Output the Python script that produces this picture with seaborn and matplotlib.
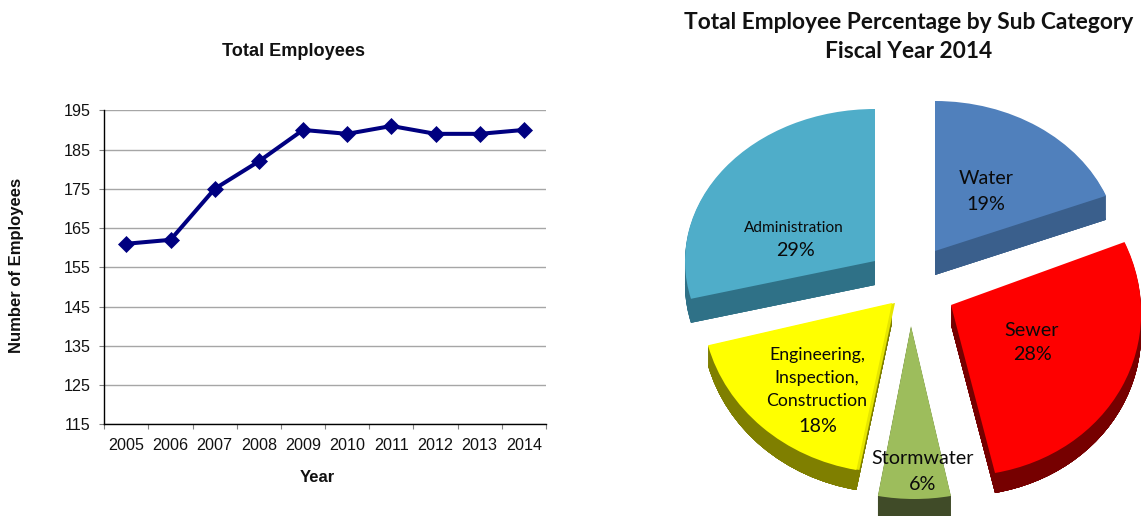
import matplotlib
matplotlib.use("Agg")
import matplotlib.pyplot as plt
from matplotlib.transforms import Affine2D
import seaborn as sns

# ---- data ----
years = [2005, 2006, 2007, 2008, 2009, 2010, 2011, 2012, 2013, 2014]
employees = [161, 162, 175, 182, 190, 189, 191, 189, 189, 190]
y_ticks = [115, 125, 135, 145, 155, 165, 175, 185, 195]
line_title = "Total Employees"
line_xlabel = "Year"
line_ylabel = "Number of Employees"

pie_title = "Total Employee Percentage by Sub Category\nFiscal Year 2014"
categories = ["Water", "Sewer", "Stormwater", "Engineering,\nInspection,\nConstruction", "Administration"]
shares = [19, 28, 6, 18, 29]
top_colors = ["#5080bc", "#fe0000", "#9dbd5c", "#ffff00", "#4fadc9"]
side_colors = ["#3a5f8c", "#760000", "#404b28", "#7f7f00", "#2f7187"]
edge_colors = ["#3a5f8c", "#760000", "#404b28", "#e6e600", "#2f7187"]

# ---- layout (pixels) ----
W, H = 1141, 516
L, R, T, B = 104.3, 546, 110.3, 424.3
apex = [(935, 251), (951, 305), (911, 326), (892, 303), (875, 261)]
radius_x = [184, 190, 195, 190, 190]
radius_y = [150, 171, 173, 170, 152]
shear = [0, -0.05, -0.02, 0, 0]
depth = [24, 20, 26, 20, 24]
name_xy = [(986, 179), (1032, 330), (923, 458), (817, 378), (794, 228)]
pct_xy = [(986, 204), (1032, 355), (923, 484), (818, 427), (795, 251)]
name_size = [14.2, 14.2, 14.2, 12.7, 11.1]
pct_size = 14.2

sns.set_theme(style="white")
plt.rcParams["font.family"] = ["Liberation Sans", "DejaVu Sans"]

fig = plt.figure(figsize=(W / 100, H / 100), dpi=100)

# ---- line chart ----
ax = fig.add_axes([L / W, 1 - B / H, (R - L) / W, (B - T) / H])
sns.lineplot(x=years, y=employees, ax=ax, color="#000080", linewidth=2.9,
             marker="D", markersize=8.4, markeredgecolor="#000080",
             markeredgewidth=0.5, errorbar=None, clip_on=False, zorder=5)
ax.set_xlim(2004.5, 2014.5)
ax.set_ylim(115, 195)
ax.set_yticks(y_ticks)
ax.set_xticks(years)
ax.set_xticks([y - 0.5 for y in years] + [years[-1] + 0.5], minor=True)
ax.grid(axis="y", color="#a6a6a6", linewidth=1)
ax.grid(axis="x", visible=False)
ax.set_axisbelow(True)
ax.tick_params(axis="x", which="major", length=0, labelsize=11.6, pad=10, colors="#111111")
ax.tick_params(axis="x", which="minor", length=3.6, width=0.8, color="#808080", bottom=True)
ax.tick_params(axis="y", length=3.6, width=0.8, color="#808080", left=True, labelsize=11.6, pad=6.5, labelcolor="#111111")
for side in ["top", "right"]:
    ax.spines[side].set_visible(False)
for side in ["left", "bottom"]:
    ax.spines[side].set_color("black")
    ax.spines[side].set_linewidth(1.0)
ax.set_title(line_title, fontsize=13.1, fontweight="bold", color="#111111",
             x=(293 - L) / (R - L), y=(B - 52) / (B - T), va="center", pad=0)
ax.set_xlabel(line_xlabel, fontsize=12, fontweight="bold", color="#111111", va="center")
ax.xaxis.set_label_coords((317 - L) / (R - L), -(478 - B) / (B - T))
ax.set_ylabel(line_ylabel, fontsize=12, fontweight="bold", color="#111111", va="center")
ax.yaxis.set_label_coords((17 - L) / (R - L), (B - 265) / (B - T))

# ---- exploded pseudo-3D pie, one axes in figure pixels ----
pax = fig.add_axes([0, 0, 1, 1], facecolor="none")


def draw_pie(colors, offsets, nudge=0):
    wedges, _ = pax.pie(shares, colors=colors, startangle=90, counterclock=False,
                        wedgeprops={"linewidth": 0})
    for w, (cx, cy), rx, ry, sh, off in zip(wedges, apex, radius_x, radius_y, shear, offsets):
        w.set_transform(Affine2D().scale(rx, ry).skew(sh, 0).translate(cx + nudge, H - cy - off) + pax.transData)
    return wedges


# side walls: the slices stepped downwards in the dark colours
for step in range(max(depth), 0, -1):
    draw_pie(side_colors, [min(step, d) for d in depth])
# lighter sliver along the right edge of the yellow slice
sliver = draw_pie(edge_colors, [0] * len(shares), nudge=3)
for i, w in enumerate(sliver):
    if i != 3:
        w.set_visible(False)
draw_pie(top_colors, [0] * len(shares))

pax.set_aspect("auto")
pax.set_xlim(0, W)
pax.set_ylim(0, H)
pax.axis("off")

font_list = ["Lato", "DejaVu Sans"]
for name, share, (nx, ny), (px, py), size in zip(categories, shares, name_xy, pct_xy, name_size):
    pax.text(nx, H - ny, name, ha="center", va="center", fontsize=size, family=font_list,
             color="#0a0a0a", linespacing=1.55)
    pax.text(px, H - py, f"{share}%", ha="center", va="center", fontsize=pct_size, family=font_list,
             color="#0a0a0a")

pax.text(909, H - 37, pie_title, ha="center", va="center", fontsize=16.4, fontweight="bold",
         family=font_list, color="#111111", linespacing=1.45)

fig.savefig("out.png", dpi=100)
